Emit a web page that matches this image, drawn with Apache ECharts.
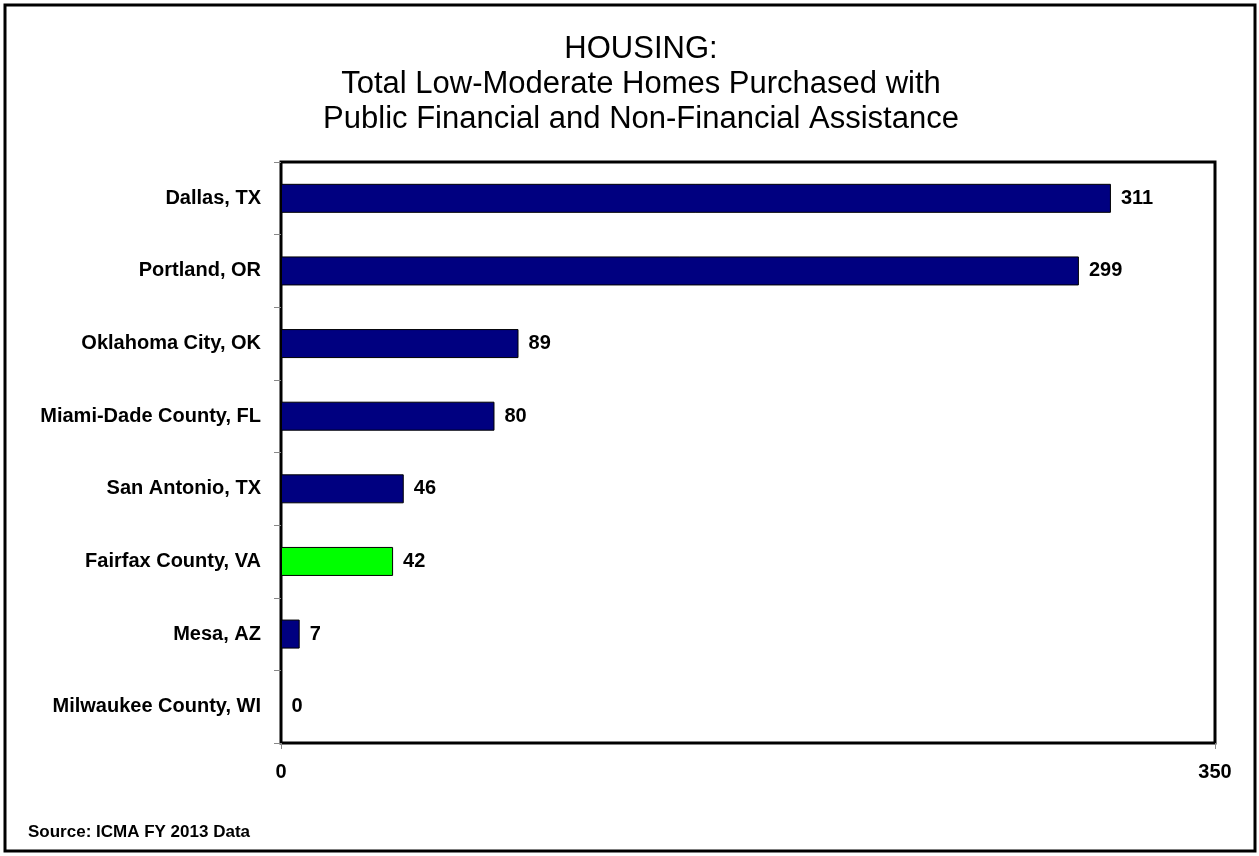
<!DOCTYPE html>
<html><head><meta charset="utf-8">
<script src="https://cdn.jsdelivr.net/npm/echarts@6/dist/echarts.min.js"></script>
<style>html,body{margin:0;padding:0;background:#fff}#c{width:1259px;height:856px}</style>
</head><body><div id="c"></div>
<script>
const categories = ['Dallas, TX','Portland, OR','Oklahoma City, OK','Miami-Dade County, FL','San Antonio, TX','Fairfax County, VA','Mesa, AZ','Milwaukee County, WI'];
const values = [311, 299, 89, 80, 46, 42, 7, 0];
const highlight = 'Fairfax County, VA';
const titleLines = ['HOUSING:', 'Total Low-Moderate Homes Purchased with', 'Public Financial and Non-Financial Assistance'];
const sourceText = 'Source: ICMA FY 2013 Data';
const xMin = 0, xMax = 350;

const chart = echarts.init(document.getElementById('c'));
const font = '"Liberation Sans", Arial, sans-serif';
chart.setOption({
  animation: false,
  backgroundColor: '#fff',
  title: {
    text: titleLines.join('\n'),
    left: 636, top: 27, textAlign: 'center',
    textStyle: { fontFamily: font, fontSize: 31, fontWeight: 'normal', color: '#000', lineHeight: 35 }
  },
  graphic: [
    { type: 'rect', shape: { x: 5, y: 5, width: 1250, height: 846 }, style: { fill: 'none', stroke: '#000', lineWidth: 3 }, z: 100 },
    { type: 'text', left: 28, top: 824, style: { text: sourceText, font: 'bold 17px ' + font, fill: '#000' } }
  ],
  grid: { left: 281, right: 44, top: 162, bottom: 113, show: true, borderColor: '#000', borderWidth: 3, backgroundColor: 'transparent' },
  xAxis: {
    type: 'value', min: xMin, max: xMax, interval: 350,
    splitLine: { show: false },
    axisLine: { show: false },
    axisTick: { show: true, length: 6, lineStyle: { color: '#888' } },
    axisLabel: { fontFamily: font, fontSize: 20, fontWeight: 'bold', color: '#000', margin: 19 }
  },
  yAxis: {
    type: 'category', data: categories, inverse: true,
    axisLine: { show: false },
    axisTick: { show: true, length: 7, lineStyle: { color: '#888' } },
    axisLabel: { fontFamily: font, fontSize: 20, fontWeight: 'bold', color: '#000', margin: 20 }
  },
  series: [{
    type: 'bar',
    data: values.map((v, i) => ({ value: v, itemStyle: { color: categories[i] === highlight ? '#00FF00' : '#000080' } })),
    barWidth: 29,
    itemStyle: { borderColor: '#000', borderWidth: 1 },
    label: { show: true, position: 'right', distance: 10, fontFamily: font, fontSize: 20, fontWeight: 'bold', color: '#000' }
  }]
});
</script></body></html>
